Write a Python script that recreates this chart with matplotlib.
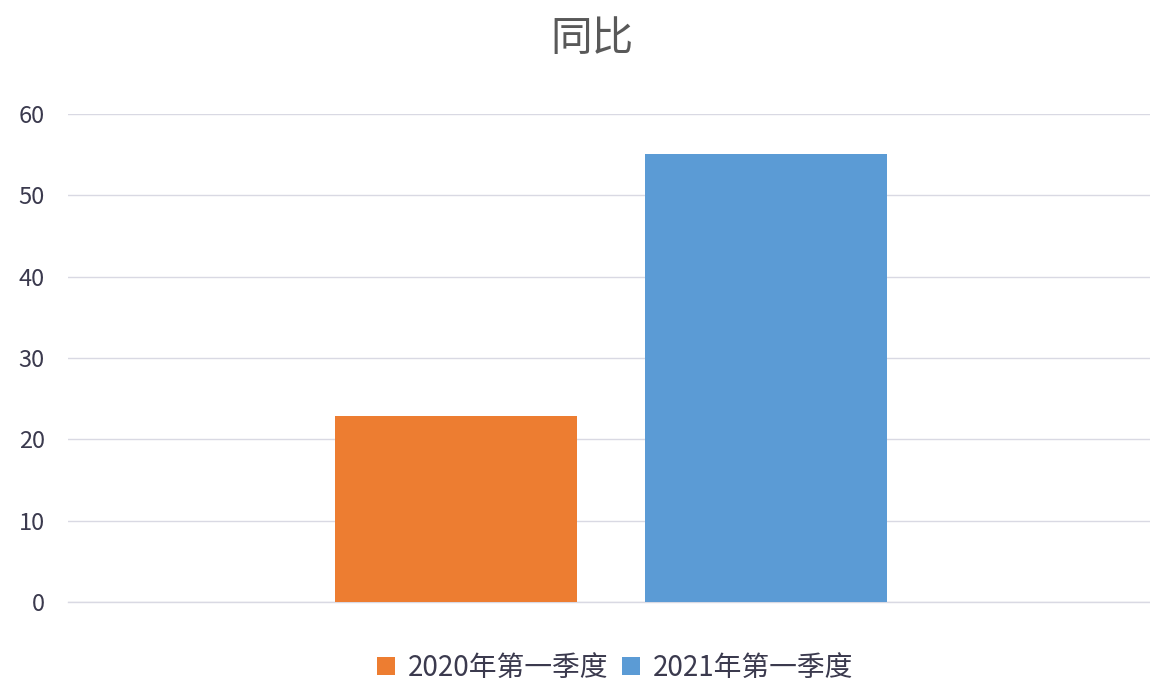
import matplotlib
matplotlib.use("Agg")
import matplotlib.pyplot as plt
from matplotlib.patches import Patch

plt.rcParams['font.family'] = ['Noto Sans CJK SC', 'DejaVu Sans']

title = "同比"
series_names = ["2020年第一季度", "2021年第一季度"]
values = [22.9, 55.1]
colors = ["#ED7D31", "#5B9BD5"]
yticks = [0, 10, 20, 30, 40, 50, 60]

fig = plt.figure(figsize=(11.5, 7), dpi=100)
ax = fig.add_axes([0.059, 0.14, 0.941, 0.697])

width = 0.2237
offsets = [-0.141, 0.145]
for off, v, c in zip(offsets, values, colors):
    ax.bar(0 + off, v, width=width, color=c, zorder=3)

ax.set_xlim(-0.5, 0.5)
ax.set_ylim(0, 60)
ax.set_yticks(yticks)
ax.set_xticks([])
ax.grid(axis='y', color='#D9D9E3', linewidth=1.0, zorder=0)
ax.axhline(0, color='#D9D9E3', linewidth=1.0, zorder=2, clip_on=False)
for s in ax.spines.values():
    s.set_visible(False)
ax.tick_params(axis='y', length=0, pad=16.5, labelsize=17, labelcolor='#3B3A4E')

fig.text(0.515, 0.943, title, ha='center', va='center', fontsize=30,
         fontweight='light', color='#595959')

handles = [Patch(facecolor=c, label=n) for c, n in zip(colors, series_names)]
fig.legend(handles=handles, loc='center', bbox_to_anchor=(0.535, 0.046), ncol=2,
           frameon=False, fontsize=20, handlelength=0.65, handleheight=0.65,
           handletextpad=0.45, columnspacing=0.5, labelcolor='#3B3A4E')

fig.savefig("out.png", dpi=100, facecolor='white')
